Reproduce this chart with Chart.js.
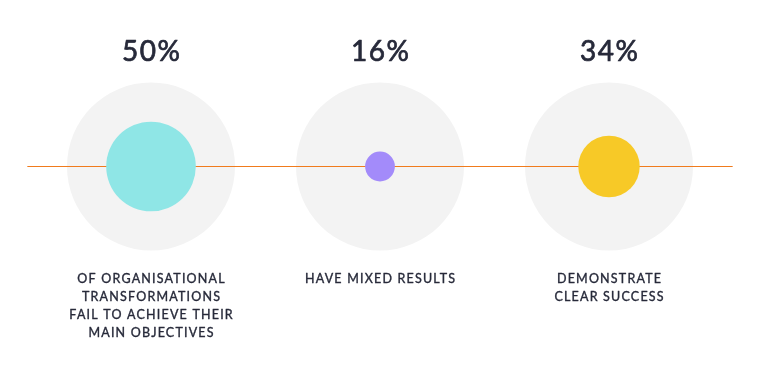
<!DOCTYPE html>
<html>
<head>
<meta charset="utf-8">
<script src="https://cdn.jsdelivr.net/npm/chart.js@4"></script>
<style>
  html, body { margin: 0; padding: 0; background: #ffffff; }
  #wrap { width: 760px; height: 372px; position: relative; }
</style>
</head>
<body>
<div id="wrap"><canvas id="c"></canvas></div>
<script>
// ---- data ----
const categories = [
  ["OF ORGANISATIONAL", "TRANSFORMATIONS", "FAIL TO ACHIEVE THEIR", "MAIN OBJECTIVES"],
  ["HAVE MIXED RESULTS"],
  ["DEMONSTRATE", "CLEAR SUCCESS"]
];
const values = [50, 16, 34];
const valueLabels = ["50%", "16%", "34%"];
const dotColors = ["#8fe6e6", "#a38bfa", "#f7c927"];

// ---- styling constants ----
const BG_RADIUS = 84;
const RADIUS_PER_UNIT = 0.88;
const RADIUS_BASE = 0.8;
const X_PAD = 0.6594;
const LINE_OVERHANG = 0.54;
const TEXT_COLOR = "#272a3a";

const n = values.length;
const bgData = values.map((v, i) => ({ x: i, y: 0, r: BG_RADIUS }));
const dotData = values.map((v, i) => ({ x: i, y: 0, r: v * RADIUS_PER_UNIT + RADIUS_BASE }));
const lineData = [{ x: -LINE_OVERHANG, y: 0 }, { x: n - 1 + LINE_OVERHANG, y: 0 }];

const labelPlugin = {
  id: 'labels',
  afterDatasetsDraw(chart) {
    const ctx = chart.ctx;
    const xs = chart.scales.x;
    ctx.save();
    ctx.fillStyle = TEXT_COLOR;
    ctx.strokeStyle = TEXT_COLOR;
    ctx.lineJoin = 'round';
    ctx.textAlign = 'center';
    ctx.textBaseline = 'alphabetic';
    values.forEach((v, i) => {
      const px = xs.getPixelForValue(i);
      ctx.font = '28px Lato';
      ctx.letterSpacing = '1.5px';
      ctx.lineWidth = 0.7;
      ctx.fillText(valueLabels[i], px + 0.75, 61);
      ctx.strokeText(valueLabels[i], px + 0.75, 61);
      ctx.font = '12.5px Lato';
      ctx.letterSpacing = '1.2px';
      ctx.lineWidth = 0.35;
      categories[i].forEach((line, j) => {
        ctx.fillText(line, px + 0.6, 282.5 + j * 18.3);
        ctx.strokeText(line, px + 0.6, 282.5 + j * 18.3);
      });
    });
    ctx.restore();
  }
};

new Chart(document.getElementById('c'), {
  type: 'bubble',
  data: {
    datasets: [
      { data: dotData, backgroundColor: dotColors, borderWidth: 0, hoverBorderWidth: 0, order: 0, clip: false },
      { type: 'line', data: lineData, borderColor: '#f07b1d', borderWidth: 1, pointRadius: 0, fill: false, order: 1, clip: false },
      { data: bgData, backgroundColor: '#f3f3f3', borderWidth: 0, hoverBorderWidth: 0, order: 2, clip: false }
    ]
  },
  options: {
    responsive: true,
    maintainAspectRatio: false,
    animation: false,
    events: [],
    layout: { autoPadding: false, padding: { top: 0, left: 0, right: 0, bottom: 39 } },
    plugins: { legend: { display: false }, tooltip: { enabled: false } },
    scales: {
      x: { type: 'linear', min: -X_PAD, max: n - 1 + X_PAD, display: false },
      y: { type: 'linear', min: -1, max: 1, display: false }
    }
  },
  plugins: [labelPlugin]
});
</script>
</body>
</html>
